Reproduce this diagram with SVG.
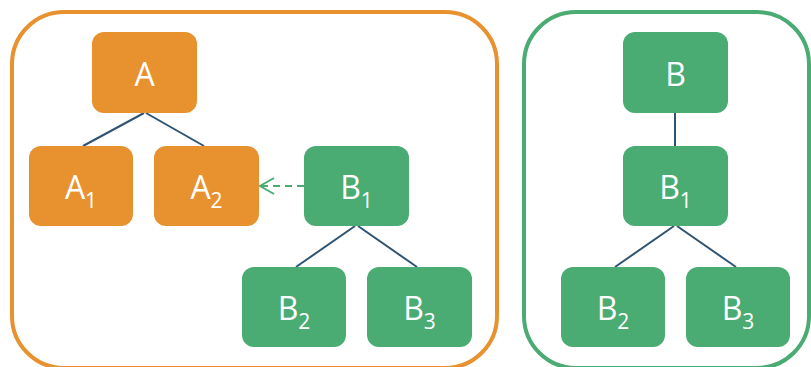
<svg xmlns="http://www.w3.org/2000/svg" width="811" height="367" viewBox="0 0 811 367">
<style>
.frame{fill:none;stroke-width:4}
.o{fill:#E8912F}
.g{fill:#4AAB73}
.t{font-family:"Open Sans","Noto Sans",sans-serif;font-size:32px;fill:#fff;text-anchor:middle}
.s{font-size:21px}
.edge{stroke:#2F5473;stroke-width:2;fill:none}
.dash{stroke:#4AAB73;stroke-width:2;stroke-dasharray:7 5;fill:none}
</style>
<defs>
<marker id="arr" viewBox="0 0 16 18" refX="15" refY="9" markerWidth="16" markerHeight="18" markerUnits="userSpaceOnUse" orient="auto">
<path d="M1 1 L15 9 L1 17" fill="none" stroke="#4AAB73" stroke-width="2"/>
</marker>
</defs>
<rect class="frame" x="12" y="12" width="485" height="356" rx="52" stroke="#E8912F"/>
<rect class="frame" x="524" y="12" width="285" height="356" rx="52" stroke="#4AAB73"/>
<g id="connectors">
<line class="edge" x1="144" y1="113" x2="83" y2="146"/>
<line class="edge" x1="146" y1="113" x2="204" y2="146"/>
<line class="edge" x1="355" y1="226" x2="296" y2="267"/>
<line class="edge" x1="358" y1="226" x2="417" y2="267"/>
<path class="dash" d="M304 186 H260" marker-end="url(#arr)"/>
<line class="edge" x1="675" y1="112" x2="675" y2="146"/>
<line class="edge" x1="674" y1="226" x2="615" y2="267"/>
<line class="edge" x1="677" y1="226" x2="736" y2="267"/>
</g>
<g id="A"><rect class="o" x="92" y="32" width="105" height="81" rx="12"/><text class="t" x="144.5" y="86">A</text></g>
<g id="A1"><rect class="o" x="29" y="146" width="104" height="80" rx="12"/><text class="t" x="81" y="199">A<tspan class="s" dy="9">1</tspan></text></g>
<g id="A2"><rect class="o" x="154" y="146" width="105" height="80" rx="12"/><text class="t" x="206.5" y="199">A<tspan class="s" dy="9">2</tspan></text></g>
<g id="B1L"><rect class="g" x="304" y="146" width="105" height="80" rx="12"/><text class="t" x="356.5" y="199">B<tspan class="s" dy="9">1</tspan></text></g>
<g id="B2L"><rect class="g" x="242" y="267" width="104" height="80" rx="12"/><text class="t" x="294" y="320">B<tspan class="s" dy="9">2</tspan></text></g>
<g id="B3L"><rect class="g" x="367" y="267" width="105" height="80" rx="12"/><text class="t" x="419.5" y="320">B<tspan class="s" dy="9">3</tspan></text></g>
<g id="B"><rect class="g" x="623" y="32" width="105" height="81" rx="12"/><text class="t" x="675.5" y="86">B</text></g>
<g id="B1R"><rect class="g" x="623" y="146" width="105" height="80" rx="12"/><text class="t" x="675.5" y="199">B<tspan class="s" dy="9">1</tspan></text></g>
<g id="B2R"><rect class="g" x="561" y="267" width="104" height="80" rx="12"/><text class="t" x="613" y="320">B<tspan class="s" dy="9">2</tspan></text></g>
<g id="B3R"><rect class="g" x="686" y="267" width="104" height="80" rx="12"/><text class="t" x="738" y="320">B<tspan class="s" dy="9">3</tspan></text></g>
</svg>
